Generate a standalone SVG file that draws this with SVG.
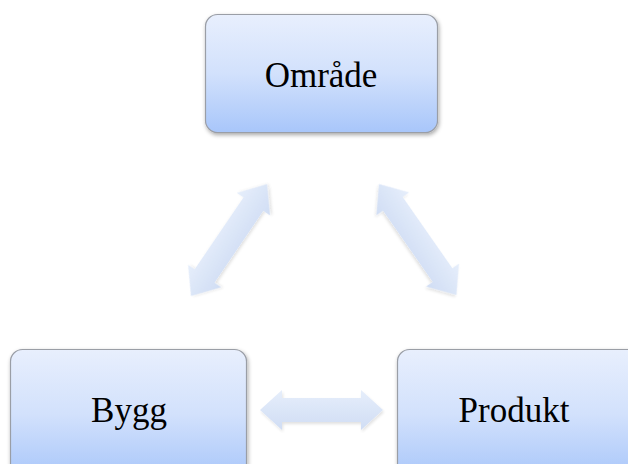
<svg xmlns="http://www.w3.org/2000/svg" width="628" height="464" viewBox="0 0 628 464">
<defs>
<linearGradient id="boxg" x1="0" y1="0" x2="0" y2="1">
<stop offset="0" stop-color="#e8effd"/>
<stop offset="0.5" stop-color="#d2e1fc"/>
<stop offset="1" stop-color="#a8c6fa"/>
</linearGradient>
<linearGradient id="arrg" x1="0" y1="0" x2="0" y2="1">
<stop offset="0" stop-color="#e6eefb"/>
<stop offset="1" stop-color="#d0ddf4"/>
</linearGradient>
<filter id="sh" x="-10%" y="-10%" width="125%" height="130%">
<feGaussianBlur in="SourceAlpha" stdDeviation="2"/>
<feOffset dx="1" dy="2" result="b"/>
<feComponentTransfer><feFuncA type="linear" slope="0.35"/></feComponentTransfer>
<feMerge><feMergeNode/><feMergeNode in="SourceGraphic"/></feMerge>
</filter>
<filter id="ash" x="-20%" y="-40%" width="140%" height="180%">
<feGaussianBlur in="SourceAlpha" stdDeviation="1.5"/>
<feOffset dx="0.5" dy="1.5"/>
<feComponentTransfer><feFuncA type="linear" slope="0.12"/></feComponentTransfer>
<feMerge><feMergeNode/><feMergeNode in="SourceGraphic"/></feMerge>
</filter>
<path id="darrow" d="M0,0 L22,-20 L22,-12 L101,-12 L101,-20 L123,0 L101,20 L101,12 L22,12 L22,20 Z"/>
</defs>
<style>
.box{fill:url(#boxg);stroke:#9a9ea6;stroke-width:1.2;filter:url(#sh)}
.lbl{font-family:"Liberation Serif","Times New Roman",serif;font-size:35px;fill:#000;text-anchor:middle}
.arr{fill:url(#arrg);filter:url(#ash)}
</style>
<rect width="628" height="464" fill="#fff"/>
<g id="connectors">
<use href="#darrow" class="arr" transform="translate(260,410)"/>
<use href="#darrow" class="arr" transform="translate(191,296) rotate(-55.8) scale(1.1,1)"/>
<use href="#darrow" class="arr" transform="translate(379,184) rotate(55.1) scale(1.1,1)"/>
</g>
<g id="node-omrade">
<rect class="box" x="205.5" y="14.5" width="232" height="118" rx="12"/>
<text class="lbl" x="321" y="87">Område</text>
</g>
<g id="node-bygg">
<rect class="box" x="10.5" y="349.5" width="236" height="130" rx="12"/>
<text class="lbl" x="129" y="422">Bygg</text>
</g>
<g id="node-produkt">
<rect class="box" x="397.5" y="349.5" width="245" height="130" rx="12"/>
<text class="lbl" x="514" y="422">Produkt</text>
</g>
</svg>
